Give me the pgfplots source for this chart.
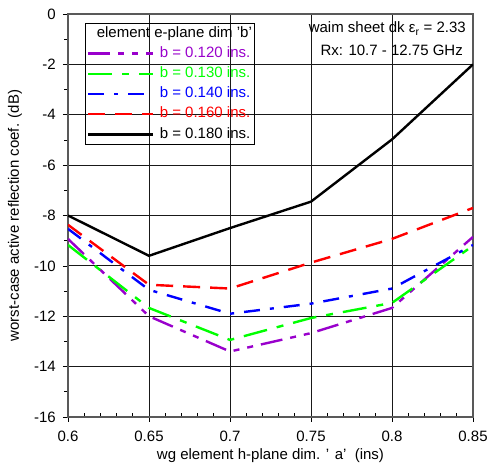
\documentclass[border=0pt]{standalone}
\usepackage{pgfplots}
\pgfplotsset{compat=1.18}
\usepackage{fontspec}
\setmainfont{Liberation Sans}
\definecolor{cpurple}{RGB}{153,0,204}
\definecolor{cgreen}{RGB}{0,255,0}
\definecolor{cblue}{RGB}{0,0,255}
\definecolor{cred}{RGB}{255,0,0}
\newcommand{\fs}{\fontsize{15}{18}\selectfont}
\begin{document}
\fs
\begin{tikzpicture}
\begin{axis}[
  scale only axis,
  width=405pt, height=403pt,
  xmin=0.6, xmax=0.85, ymin=-16, ymax=0,
  xtick={0.6,0.65,...,0.85},
  xticklabels={0.6,0.65,0.7,0.75,0.8,0.85},
  ytick={-16,-14,...,0},
  minor x tick num=4,
  minor y tick num=1,
  tick pos=left,
  grid=major,
  major grid style={black!90, line width=0.8pt},
  axis line style={black!65, line width=1.3pt},
  tick style={black, line width=0.7pt},
  major tick length=5pt, minor tick length=3.5pt,
  xtick align=outside, ytick align=outside,
  minor x tick style={yshift=3.5pt},
  /pgf/number format/assume math mode=true,
  ticklabel style={font=\fs},
  xticklabel style={yshift=-4pt},
  yticklabel style={xshift=-2pt},
  xlabel={wg element h-plane dim. ' a'\ \ (ins)},
  ylabel={worst-case active reflection coef. (dB)},
  every axis x label/.style={at={([yshift=-39pt]rel axis cs:0.5,0)}, anchor=center, font=\fs},
  every axis y label/.style={at={([xshift=-53pt]rel axis cs:0,0.5)}, anchor=center, rotate=90, font=\fs},
  legend image code/.code={\draw[#1, line width=2.4pt] (0pt,0pt) -- (65pt,0pt);},
  legend style={at={(rel axis cs:0.042,0.978)}, anchor=north west, draw=black, line width=0.8pt, fill=none,
    font=\fs, nodes={font=\fs, text height=11.2pt, text depth=3.6pt, inner ysep=2.7pt, inner xsep=1.5pt},
    row sep=0pt, column sep=4pt, inner xsep=1.5pt, inner ysep=0pt},
  legend cell align=left,
]
\coordinate (ll) at (rel axis cs:0,0);
\coordinate (ur) at (rel axis cs:1,1);
\addlegendimage{empty legend}
\addlegendentry{\hspace*{-63pt}element e-plane dim 'b'}
\addplot[cpurple, line width=2.4pt, dash pattern=on 22pt off 8pt on 6pt off 8pt on 6pt off 8pt] coordinates {
 (0.6,-8.93) (0.65,-12.0) (0.7,-13.4) (0.75,-12.67) (0.8,-11.67) (0.85,-8.85)};
\addlegendentry{\textcolor{cpurple}{b = 0.120 ins.}}
\addplot[cgreen, line width=2.4pt, dash pattern=on 24pt off 10pt on 7pt off 10pt] coordinates {
 (0.6,-9.17) (0.65,-11.67) (0.7,-12.94) (0.75,-12.07) (0.8,-11.47) (0.85,-9.2)};
\addlegendentry{\textcolor{cgreen}{b = 0.130 ins.}}
\addplot[cblue, line width=2.4pt, dash pattern=on 16pt off 10pt on 4pt off 10pt] coordinates {
 (0.6,-8.53) (0.65,-10.95) (0.7,-11.9) (0.75,-11.5) (0.8,-10.9) (0.85,-9.17)};
\addlegendentry{\textcolor{cblue}{b = 0.140 ins.}}
\addplot[cred, line width=2.4pt, dash pattern=on 17pt off 10pt] coordinates {
 (0.6,-8.37) (0.65,-10.75) (0.7,-10.9) (0.75,-9.87) (0.8,-8.93) (0.85,-7.7)};
\addlegendentry{\textcolor{cred}{b = 0.160 ins.}}
\addplot[black, line width=2.4pt] coordinates {
 (0.6,-8.0) (0.65,-9.6) (0.7,-8.5) (0.75,-7.45) (0.8,-4.98) (0.85,-2.0)};
\addlegendentry{b = 0.180 ins.}
\node[anchor=base east, inner sep=0pt, font=\fs] at (rel axis cs:0.9827,0.9529) {waim sheet dk ε\textsubscript{r} = 2.33};
\node[anchor=base east, inner sep=0pt, font=\fs] at (rel axis cs:0.9753,0.8958) {Rx: 10.7 - 12.75 GHz};
\end{axis}
\pgfresetboundingbox
\path ([shift={(-68pt,-48pt)}]ll) rectangle ([shift={(17pt,14pt)}]ur);
\end{tikzpicture}
\end{document}
